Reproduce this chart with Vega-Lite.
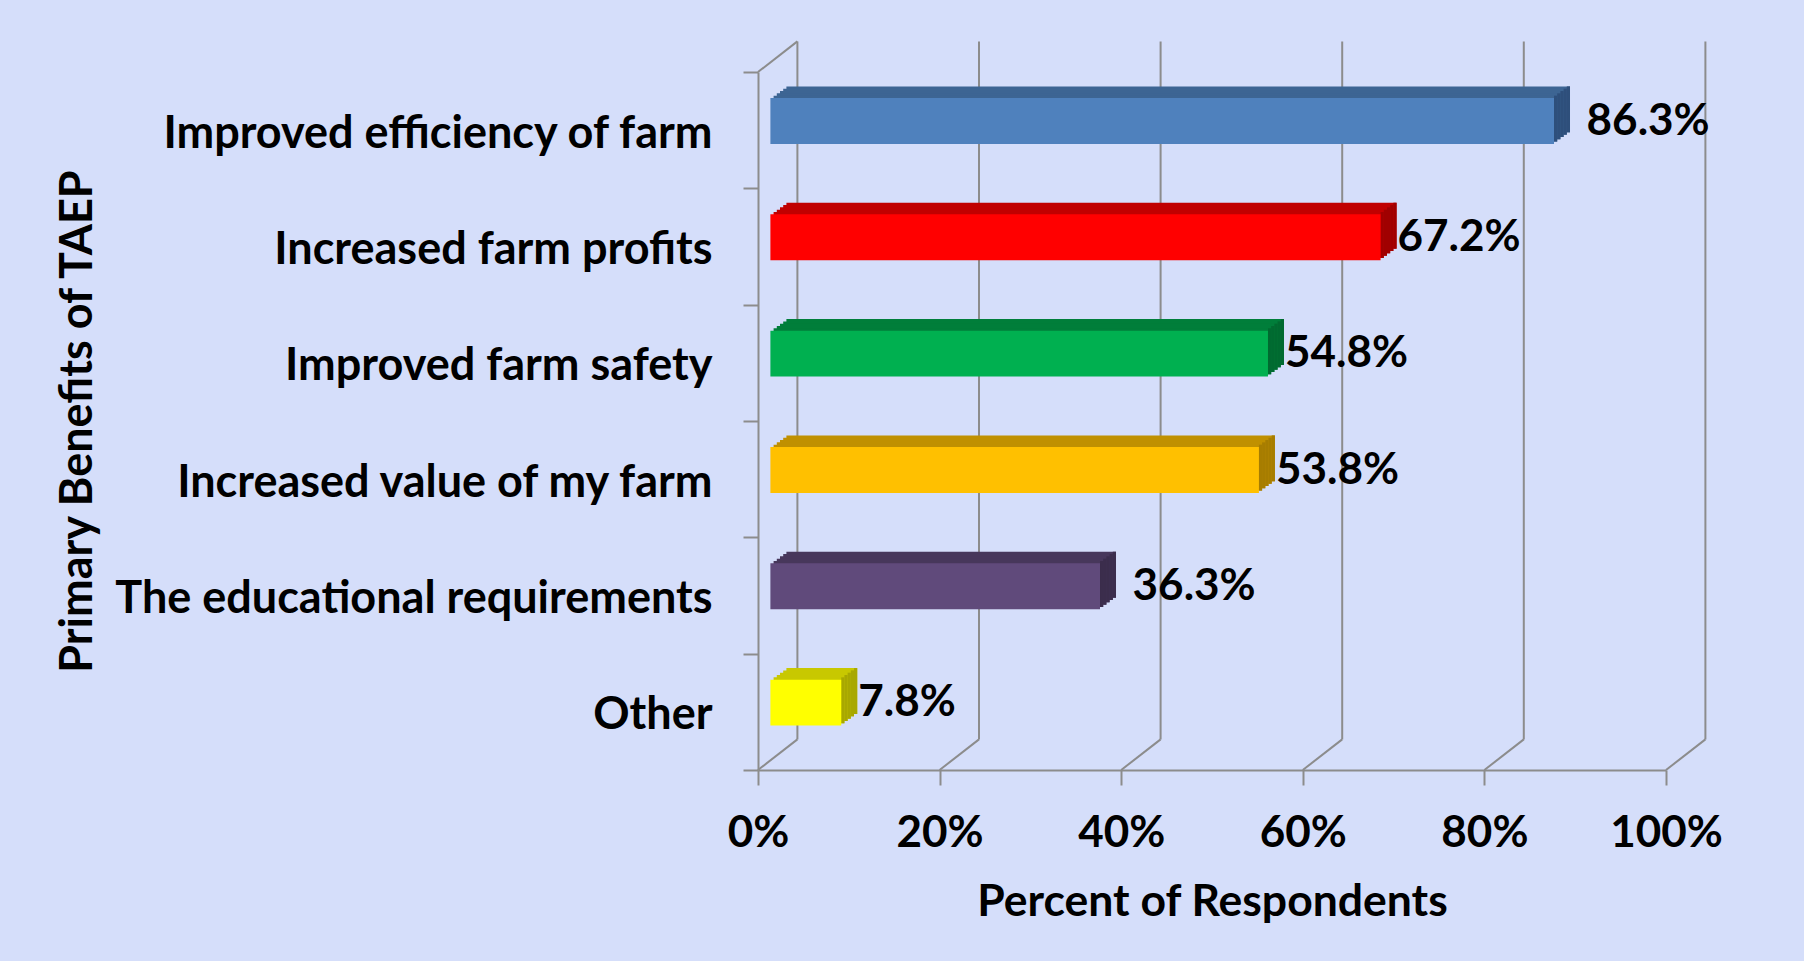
{
  "$schema": "https://vega.github.io/schema/vega-lite/v6.json",
  "width": 908,
  "height": 698,
  "autosize": {"type": "none"},
  "padding": {"left": 758, "top": 72, "right": 138, "bottom": 191},
  "background": "#d5defa",
  "config": {"view": {"stroke": null}, "font": "Lato"},
  "datasets": {
    "bars": [
      {"benefit": "Improved efficiency of farm", "value": 0.863},
      {"benefit": "Increased farm profits", "value": 0.672},
      {"benefit": "Improved farm safety", "value": 0.548},
      {"benefit": "Increased value of my farm", "value": 0.538},
      {"benefit": "The educational requirements", "value": 0.363},
      {"benefit": "Other", "value": 0.078}
    ],
    "ticks": [
      {"value": 0}, {"value": 0.2}, {"value": 0.4}, {"value": 0.6}, {"value": 0.8}, {"value": 1}
    ]
  },
  "data": {"name": "bars"},
  "encoding": {
    "x": {
      "field": "value", "type": "quantitative", "stack": null,
      "scale": {"domain": [0, 1], "nice": false, "zero": true},
      "axis": {
        "values": [0, 0.2, 0.4, 0.6, 0.8, 1], "format": ".0%", "grid": false,
        "domainColor": "#8c8c8c", "domainWidth": 2, "tickColor": "#8c8c8c", "tickWidth": 2, "tickSize": 15,
        "labelFont": "Lato", "labelFontSize": 44, "labelFontWeight": "bold", "labelColor": "black",
        "labelPadding": 61, "labelBaseline": "alphabetic", "labelFlush": false, "labelOverlap": false,
        "title": "Percent of Respondents", "titleFont": "Lato", "titleFontSize": 44.5, "titleFontWeight": "bold",
        "titleColor": "black", "titleX": 454, "titleY": 145, "titleBaseline": "alphabetic", "titleAlign": "center"
      }
    },
    "y": {
      "field": "benefit", "type": "nominal", "sort": null,
      "scale": {"paddingInner": 0, "paddingOuter": 0},
      "axis": {
        "grid": false, "domainColor": "#8c8c8c", "domainWidth": 2, "tickColor": "#8c8c8c", "tickWidth": 2,
        "tickSize": 15, "tickBand": "extent",
        "labelFont": "Lato", "labelFontSize": 45, "labelFontWeight": "bold", "labelColor": "black",
        "labelPadding": 31, "labelAlign": "right", "labelBaseline": "alphabetic", "labelOffset": 17, "labelLimit": 700,
        "title": "Primary Benefits of TAEP", "titleFont": "Lato", "titleFontSize": 45, "titleFontWeight": "bold",
        "titleColor": "black", "titleAngle": 270, "titleX": -667, "titleY": 349, "titleBaseline": "alphabetic", "titleAlign": "center"
      }
    }
  },
  "layer": [
    {
      "data": {"name": "ticks"},
      "mark": {"type": "rule", "color": "#8c8c8c", "strokeWidth": 2, "xOffset": 39.4, "yOffset": -30.6, "y2Offset": -30.6},
      "encoding": {"y": {"value": 0}, "y2": {"value": "height"}}
    },
    {
      "data": {"name": "ticks"},
      "mark": {"type": "rule", "color": "#8c8c8c", "strokeWidth": 2, "x2Offset": 39.4, "y2Offset": -30.6},
      "encoding": {"x2": {"field": "value"}, "y": {"value": "height"}, "y2": {"value": "height"}}
    },
    {
      "data": {"name": "ticks"},
      "transform": [{"filter": "datum.value == 0"}],
      "mark": {"type": "rule", "color": "#8c8c8c", "strokeWidth": 2, "x2Offset": 39.4, "y2Offset": -30.6},
      "encoding": {"x2": {"field": "value"}, "y": {"value": 0}, "y2": {"value": 0}}
    },
    {
      "mark": {"type": "bar", "height": {"band": 0.395}, "xOffset": 28.4, "x2Offset": 28.4, "yOffset": -20.8, "y2Offset": -20.8},
      "encoding": {"x2": {"datum": 0}, "color": {"field": "benefit", "type": "nominal", "legend": null, "scale": {"domain": ["Improved efficiency of farm", "Increased farm profits", "Improved farm safety", "Increased value of my farm", "The educational requirements", "Other"], "range": ["#3d6593", "#c00000", "#007e3a", "#c09000", "#47375b", "#c8c800"]}}}
    },
    {
      "mark": {"type": "bar", "height": {"band": 0.395}, "xOffset": 25.2, "x2Offset": 25.2, "yOffset": -18.48, "y2Offset": -18.48},
      "encoding": {"x2": {"datum": 0}, "color": {"field": "benefit", "type": "nominal", "legend": null, "scale": {"domain": ["Improved efficiency of farm", "Increased farm profits", "Improved farm safety", "Increased value of my farm", "The educational requirements", "Other"], "range": ["#3d6593", "#c00000", "#007e3a", "#c09000", "#47375b", "#c8c800"]}}}
    },
    {
      "mark": {"type": "bar", "height": {"band": 0.395}, "xOffset": 22.0, "x2Offset": 22.0, "yOffset": -16.16, "y2Offset": -16.16},
      "encoding": {"x2": {"datum": 0}, "color": {"field": "benefit", "type": "nominal", "legend": null, "scale": {"domain": ["Improved efficiency of farm", "Increased farm profits", "Improved farm safety", "Increased value of my farm", "The educational requirements", "Other"], "range": ["#3d6593", "#c00000", "#007e3a", "#c09000", "#47375b", "#c8c800"]}}}
    },
    {
      "mark": {"type": "bar", "height": {"band": 0.395}, "xOffset": 18.8, "x2Offset": 18.8, "yOffset": -13.84, "y2Offset": -13.84},
      "encoding": {"x2": {"datum": 0}, "color": {"field": "benefit", "type": "nominal", "legend": null, "scale": {"domain": ["Improved efficiency of farm", "Increased farm profits", "Improved farm safety", "Increased value of my farm", "The educational requirements", "Other"], "range": ["#3d6593", "#c00000", "#007e3a", "#c09000", "#47375b", "#c8c800"]}}}
    },
    {
      "mark": {"type": "bar", "height": {"band": 0.395}, "xOffset": 15.6, "x2Offset": 15.6, "yOffset": -11.52, "y2Offset": -11.52},
      "encoding": {"x2": {"datum": 0}, "color": {"field": "benefit", "type": "nominal", "legend": null, "scale": {"domain": ["Improved efficiency of farm", "Increased farm profits", "Improved farm safety", "Increased value of my farm", "The educational requirements", "Other"], "range": ["#3d6593", "#c00000", "#007e3a", "#c09000", "#47375b", "#c8c800"]}}}
    },
    {
      "mark": {"type": "bar", "height": {"band": 0.395}, "xOffset": 25.2, "x2Offset": 28.4, "yOffset": -20.8, "y2Offset": -20.8},
      "encoding": {"x2": {"field": "value"}, "color": {"field": "benefit", "type": "nominal", "legend": null, "scale": {"domain": ["Improved efficiency of farm", "Increased farm profits", "Improved farm safety", "Increased value of my farm", "The educational requirements", "Other"], "range": ["#2e4f7b", "#a00000", "#006a30", "#a77d00", "#3b2d4c", "#a8a800"]}}}
    },
    {
      "mark": {"type": "bar", "height": {"band": 0.395}, "xOffset": 22.0, "x2Offset": 25.2, "yOffset": -18.48, "y2Offset": -18.48},
      "encoding": {"x2": {"field": "value"}, "color": {"field": "benefit", "type": "nominal", "legend": null, "scale": {"domain": ["Improved efficiency of farm", "Increased farm profits", "Improved farm safety", "Increased value of my farm", "The educational requirements", "Other"], "range": ["#2e4f7b", "#a00000", "#006a30", "#a77d00", "#3b2d4c", "#a8a800"]}}}
    },
    {
      "mark": {"type": "bar", "height": {"band": 0.395}, "xOffset": 18.8, "x2Offset": 22.0, "yOffset": -16.16, "y2Offset": -16.16},
      "encoding": {"x2": {"field": "value"}, "color": {"field": "benefit", "type": "nominal", "legend": null, "scale": {"domain": ["Improved efficiency of farm", "Increased farm profits", "Improved farm safety", "Increased value of my farm", "The educational requirements", "Other"], "range": ["#2e4f7b", "#a00000", "#006a30", "#a77d00", "#3b2d4c", "#a8a800"]}}}
    },
    {
      "mark": {"type": "bar", "height": {"band": 0.395}, "xOffset": 15.6, "x2Offset": 18.8, "yOffset": -13.84, "y2Offset": -13.84},
      "encoding": {"x2": {"field": "value"}, "color": {"field": "benefit", "type": "nominal", "legend": null, "scale": {"domain": ["Improved efficiency of farm", "Increased farm profits", "Improved farm safety", "Increased value of my farm", "The educational requirements", "Other"], "range": ["#2e4f7b", "#a00000", "#006a30", "#a77d00", "#3b2d4c", "#a8a800"]}}}
    },
    {
      "mark": {"type": "bar", "height": {"band": 0.395}, "xOffset": 12.4, "x2Offset": 15.6, "yOffset": -11.52, "y2Offset": -11.52},
      "encoding": {"x2": {"field": "value"}, "color": {"field": "benefit", "type": "nominal", "legend": null, "scale": {"domain": ["Improved efficiency of farm", "Increased farm profits", "Improved farm safety", "Increased value of my farm", "The educational requirements", "Other"], "range": ["#2e4f7b", "#a00000", "#006a30", "#a77d00", "#3b2d4c", "#a8a800"]}}}
    },
    {
      "mark": {"type": "bar", "height": {"band": 0.395}, "xOffset": 12.4, "x2Offset": 12.4, "yOffset": -9.2, "y2Offset": -9.2},
      "encoding": {"x2": {"datum": 0}, "color": {"field": "benefit", "type": "nominal", "legend": null, "scale": {"domain": ["Improved efficiency of farm", "Increased farm profits", "Improved farm safety", "Increased value of my farm", "The educational requirements", "Other"], "range": ["#4f81bd", "#ff0000", "#00b050", "#ffc000", "#604a7b", "#ffff00"]}}}
    },
    {
      "transform": [{"filter": "datum.benefit != 'Improved efficiency of farm' && datum.benefit != 'The educational requirements'"}],
      "mark": {"type": "text", "align": "left", "baseline": "alphabetic", "dx": 29.4, "dy": 4.5, "font": "Lato", "fontSize": 44, "fontWeight": "bold", "color": "black"},
      "encoding": {"text": {"field": "value", "format": ".1%"}}
    },
    {
      "transform": [{"filter": "datum.benefit == 'Improved efficiency of farm' || datum.benefit == 'The educational requirements'"}],
      "mark": {"type": "text", "align": "left", "baseline": "alphabetic", "dx": 45, "dy": 4.5, "font": "Lato", "fontSize": 44, "fontWeight": "bold", "color": "black"},
      "encoding": {"text": {"field": "value", "format": ".1%"}}
    }
  ],
  "resolve": {"scale": {"color": "independent"}}
}
